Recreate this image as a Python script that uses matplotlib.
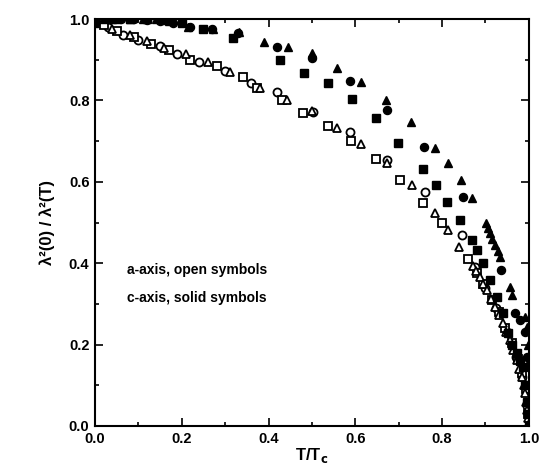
import matplotlib.pyplot as plt
from matplotlib.ticker import MultipleLocator

plt.rcParams["font.family"] = ["Liberation Sans", "DejaVu Sans"]

# a-axis (open symbols)
open_circle_x = [0.0, 0.03, 0.065, 0.10, 0.15, 0.19, 0.24, 0.30, 0.36, 0.42, 0.502, 0.588,
                 0.673, 0.76, 0.846, 0.875, 0.90, 0.925, 0.95, 0.97, 0.985, 0.995, 1.0]
open_circle_y = [1.0, 0.98, 0.962, 0.948, 0.935, 0.915, 0.895, 0.872, 0.842, 0.821, 0.772, 0.722,
                 0.654, 0.575, 0.469, 0.39, 0.34, 0.29, 0.23, 0.17, 0.12, 0.05, 0.0]

open_square_x = [0.0, 0.02, 0.05, 0.09, 0.13, 0.17, 0.22, 0.28, 0.34, 0.373, 0.43, 0.479, 0.537,
                 0.59, 0.647, 0.703, 0.756, 0.80, 0.86, 0.88, 0.895, 0.915, 0.93, 0.945, 0.96,
                 0.975, 0.985, 0.993, 0.998]
open_square_y = [0.995, 0.985, 0.97, 0.955, 0.94, 0.925, 0.9, 0.885, 0.858, 0.83, 0.80, 0.769, 0.737,
                 0.70, 0.656, 0.604, 0.548, 0.50, 0.41, 0.375, 0.35, 0.31, 0.28, 0.24, 0.205,
                 0.165, 0.13, 0.09, 0.03]

open_triangle_x = [0.0, 0.04, 0.08, 0.12, 0.16, 0.21, 0.26, 0.31, 0.38, 0.442, 0.50, 0.558, 0.613,
                   0.673, 0.73, 0.783, 0.813, 0.839, 0.871, 0.879, 0.887, 0.895, 0.903, 0.912,
                   0.922, 0.931, 0.94, 0.948, 0.956, 0.964, 0.972, 0.978, 0.984, 0.988, 0.991,
                   0.993, 0.995, 0.997, 0.998]
open_triangle_y = [1.0, 0.975, 0.96, 0.945, 0.93, 0.915, 0.895, 0.87, 0.83, 0.801, 0.775, 0.732, 0.693,
                   0.646, 0.592, 0.523, 0.482, 0.44, 0.393, 0.38, 0.366, 0.35, 0.334, 0.313,
                   0.292, 0.272, 0.253, 0.232, 0.211, 0.186, 0.162, 0.141, 0.12, 0.10, 0.081,
                   0.06, 0.039, 0.02, 0.002]

# c-axis (solid symbols)
solid_circle_x = [0.0, 0.03, 0.06, 0.09, 0.12, 0.15, 0.18, 0.22, 0.27, 0.33, 0.419, 0.50, 0.588,
                  0.673, 0.758, 0.848, 0.936, 0.968, 0.979, 0.99, 0.995, 0.998, 1.0]
solid_circle_y = [1.0, 1.0, 1.0, 1.0, 0.998, 0.995, 0.99, 0.98, 0.975, 0.965, 0.931, 0.905, 0.848,
                  0.776, 0.686, 0.563, 0.383, 0.278, 0.26, 0.23, 0.17, 0.1, 0.03]

solid_square_x = [0.0, 0.04, 0.08, 0.12, 0.16, 0.20, 0.25, 0.318, 0.426, 0.482, 0.537, 0.592,
                  0.647, 0.698, 0.756, 0.786, 0.811, 0.841, 0.869, 0.88, 0.894, 0.91, 0.926,
                  0.94, 0.952, 0.962, 0.972, 0.98, 0.986, 0.99, 0.995, 0.998, 1.0]
solid_square_y = [0.995, 1.0, 1.0, 1.0, 0.998, 0.99, 0.975, 0.953, 0.899, 0.867, 0.843, 0.803,
                  0.757, 0.695, 0.631, 0.592, 0.55, 0.506, 0.457, 0.432, 0.40, 0.359, 0.317,
                  0.278, 0.228, 0.20, 0.179, 0.16, 0.145, 0.10, 0.06, 0.03, 0.0]

solid_triangle_x = [0.0, 0.02, 0.05, 0.08, 0.11, 0.14, 0.17, 0.214, 0.272, 0.332, 0.389, 0.445,
                    0.50, 0.558, 0.613, 0.671, 0.728, 0.783, 0.813, 0.843, 0.869, 0.901, 0.906,
                    0.91, 0.916, 0.922, 0.928, 0.933, 0.956, 0.961, 0.99, 0.995, 0.998, 1.0]
solid_triangle_y = [0.99, 1.0, 1.0, 1.0, 1.0, 1.0, 0.995, 0.98, 0.975, 0.968, 0.944, 0.931,
                    0.916, 0.88, 0.845, 0.801, 0.747, 0.683, 0.646, 0.604, 0.56, 0.499, 0.487,
                    0.474, 0.46, 0.445, 0.43, 0.415, 0.342, 0.322, 0.268, 0.243, 0.2, 0.16]

fig = plt.figure(figsize=(5.43, 4.72), dpi=100)
ax = fig.add_axes([0.175, 0.0975, 0.799, 0.862])

ms = 5.8
ax.plot(open_circle_x, open_circle_y, "o", mfc="white", mec="black", mew=1.3, ms=ms)
ax.plot(open_square_x, open_square_y, "s", mfc="white", mec="black", mew=1.3, ms=ms - 0.6)
ax.plot(open_triangle_x, open_triangle_y, "^", mfc="white", mec="black", mew=1.3, ms=ms)
ax.plot(solid_circle_x, solid_circle_y, "o", color="black", ms=ms)
ax.plot(solid_square_x, solid_square_y, "s", color="black", ms=ms - 0.6)
ax.plot(solid_triangle_x, solid_triangle_y, "^", color="black", ms=ms)

ax.text(0.074, 0.383, "a-axis, open symbols", fontsize=10, fontweight="bold", va="center")
ax.text(0.074, 0.314, "c-axis, solid symbols", fontsize=10, fontweight="bold", va="center")

ax.set_xlim(0.0, 1.0)
ax.set_ylim(0.0, 1.0)
ax.xaxis.set_major_locator(MultipleLocator(0.2))
ax.xaxis.set_minor_locator(MultipleLocator(0.1))
ax.yaxis.set_major_locator(MultipleLocator(0.2))
ax.yaxis.set_minor_locator(MultipleLocator(0.1))
ax.tick_params(which="both", direction="in", top=True, right=True, width=1.2)
ax.tick_params(which="major", length=6, labelsize=10.5, pad=4)
ax.tick_params(which="minor", length=3)
for lab in ax.get_xticklabels() + ax.get_yticklabels():
    lab.set_fontweight("bold")
for sp in ax.spines.values():
    sp.set_linewidth(1.5)

ax.set_xlabel(r"T/T$_\mathbf{c}$", fontsize=12, fontweight="bold", labelpad=0)
ax.set_ylabel("λ²(0) / λ²(T)", fontsize=12, fontweight="bold", labelpad=10)

fig.savefig("out.png", dpi=100)
